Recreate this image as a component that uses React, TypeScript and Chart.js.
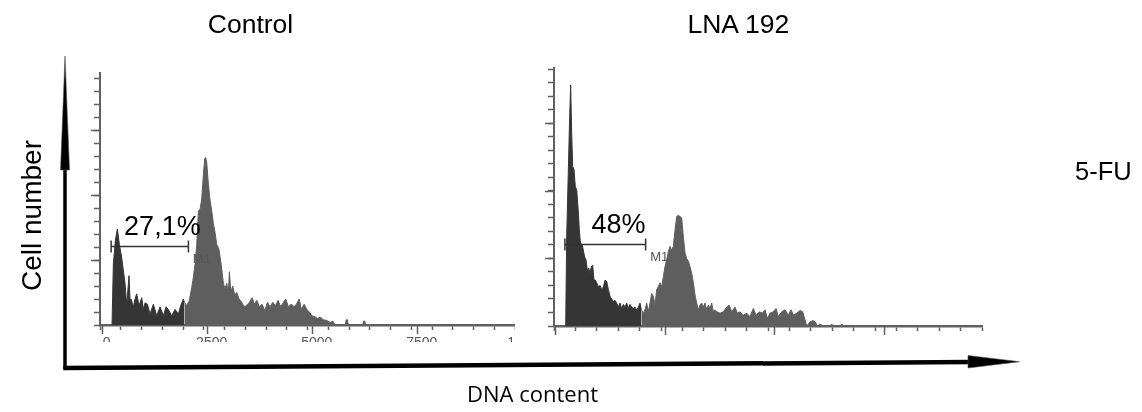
import React, { useEffect, useRef } from 'react';
import { Chart, registerables } from 'chart.js';

Chart.register(...registerables);

const FONT = '"Liberation Sans", Arial, Helvetica, sans-serif';
const AXIS = '#606060';
const DARK = '#353535';
const GRAY = '#5e5e5e';

// Panel titles and gate labels
const panelTitles = ['Control', 'LNA 192'];
const gatePercents = ['27,1%', '48%'];
const gateName = 'M1';
const gateStart = 225;
const gateEnd = 2065;
const gateLevels = [6.1, 6.05];
const gateLabelX = 1445;
const gateLabelY = 6.9;
const gateNameX = 2170;
const gateNameY = 4.8;

// x tick values shown as labels on the control panel
const xLabelValues = [0, 2500, 5000, 7500, 10000];
const xMajorTicks = [0, 2500, 5000, 7500];
const yMajorTicks = [5, 10, 15];

// Control histogram: gated (M1) part
const ctrlDarkX = [246, 278, 326, 373, 421, 476, 516, 556, 596, 651, 675, 699, 754, 794, 834, 889, 953, 993, 1032, 1088, 1151, 1231, 1310, 1390, 1469, 1532, 1588, 1667, 1747, 1826, 1882, 1945, 1969];
const ctrlDarkY = [0, 4.7, 6.5, 7.4, 6.2, 5.2, 4.2, 3.2, 1.5, 3.8, 1.9, 2.0, 1.4, 2.0, 2.4, 1.5, 2.1, 1.2, 1.7, 1.6, 0.85, 1.6, 0.7, 1.4, 0.7, 1.4, 1.2, 0.7, 1.2, 0.85, 1.5, 2.0, 1.75];
// Control histogram: remaining part
const ctrlGrayX = [1969, 2025, 2088, 2144, 2184, 2223, 2263, 2303, 2342, 2382, 2422, 2453, 2477, 2501, 2541, 2581, 2620, 2660, 2700, 2739, 2795, 2843, 2898, 2938, 2978, 3017, 3041, 3073, 3120, 3168, 3216, 3271, 3335, 3390, 3454, 3517, 3581, 3637, 3692, 3756, 3819, 3883, 3946, 4010, 4073, 4137, 4200, 4264, 4327, 4383, 4446, 4510, 4573, 4637, 4701, 4756, 4820, 4883, 4947, 5010, 5074, 5137, 5201, 5280, 5360, 5439, 5502, 5558, 5800, 5820, 5852, 5872, 6215, 6233, 6265, 6285];
const ctrlGrayY = [1.75, 1.5, 1.9, 2.9, 3.7, 4.7, 6.2, 8.8, 8.9, 9.7, 11.6, 12.8, 12.9, 12.5, 10.8, 9.6, 8.8, 7.8, 7.1, 6.2, 5.8, 4.7, 3.2, 2.8, 3.2, 2.6, 4.1, 2.6, 3.0, 2.3, 2.5, 2.0, 1.75, 1.4, 1.5, 1.75, 2.1, 1.6, 1.9, 1.4, 1.6, 1.1, 1.75, 1.4, 1.75, 1.5, 1.9, 1.4, 1.75, 2.0, 1.4, 1.6, 1.4, 1.6, 2.0, 1.2, 1.6, 1.2, 1.0, 0.7, 0.65, 0.5, 0.6, 0.4, 0.35, 0.2, 0.3, 0, 0, 0.4, 0.4, 0, 0, 0.3, 0.3, 0];

// LNA 192 histogram: gated (M1) part
const lnaDarkX = [243, 266, 304, 334, 357, 380, 403, 433, 463, 494, 524, 555, 585, 615, 646, 676, 707, 737, 767, 798, 828, 858, 889, 919, 950, 988, 1026, 1064, 1102, 1140, 1178, 1216, 1254, 1291, 1329, 1367, 1405, 1443, 1481, 1519, 1557, 1595, 1633, 1671, 1709, 1747, 1785, 1823, 1861, 1899, 1937, 1968];
const lnaDarkY = [0, 6.6, 11.6, 15.5, 17.85, 14.3, 11.8, 11.6, 10.3, 10.1, 8.8, 7.1, 5.9, 6.1, 5.6, 5.1, 4.9, 4.1, 4.3, 3.9, 4.4, 4.5, 3.4, 3.4, 3.2, 2.9, 3.0, 2.7, 2.9, 3.4, 3.3, 2.7, 2.2, 2.0, 1.8, 1.9, 1.7, 1.4, 1.7, 1.3, 1.6, 1.4, 1.7, 1.3, 1.6, 1.4, 1.3, 1.4, 1.2, 1.4, 1.7, 1.2];
// LNA 192 histogram: remaining part
const lnaGrayX = [1968, 2013, 2051, 2089, 2127, 2165, 2203, 2241, 2279, 2317, 2355, 2393, 2431, 2469, 2507, 2545, 2583, 2621, 2659, 2697, 2735, 2773, 2811, 2849, 2887, 2925, 2963, 3001, 3039, 3077, 3115, 3153, 3191, 3229, 3267, 3305, 3343, 3381, 3419, 3457, 3495, 3533, 3571, 3609, 3647, 3685, 3761, 3837, 3913, 3966, 4027, 4103, 4156, 4216, 4292, 4368, 4444, 4520, 4581, 4657, 4725, 4786, 4839, 4900, 4976, 5037, 5090, 5166, 5242, 5318, 5379, 5432, 5508, 5584, 5645, 5698, 5736, 5812, 5873, 5934, 5979, 6040, 6115, 6267, 6305, 6343, 6495, 6533, 6571];
const lnaGrayY = [1.2, 0.95, 1.2, 1.7, 1.05, 1.7, 2.4, 2.2, 1.55, 2.7, 2.9, 3.2, 2.9, 3.65, 4.4, 4.9, 5.5, 5.9, 5.6, 5.9, 7.1, 8.1, 8.2, 8.1, 8.0, 6.6, 5.4, 5.0, 4.8, 4.4, 3.9, 3.2, 2.3, 1.7, 1.2, 1.55, 1.7, 1.4, 1.7, 1.2, 1.55, 1.3, 1.7, 1.05, 1.2, 1.05, 0.95, 1.05, 1.4, 1.55, 1.05, 1.4, 0.95, 1.05, 0.8, 0.95, 0.7, 1.3, 0.8, 1.05, 0.95, 1.2, 0.55, 0.95, 1.05, 1.3, 0.7, 1.05, 1.2, 0.8, 1.2, 0.8, 0.95, 1.15, 1.05, 0.45, 0, 0.3, 0.4, 0.3, 0, 0.15, 0, 0, 0.15, 0, 0, 0.15, 0];

type HistProps = {
  darkX: number[]; darkY: number[]; grayX: number[]; grayY: number[];
  xMin: number; xMax: number; yMax: number; showXLabels: boolean;
  percent: string; level: number;
  left: number; top: number; width: number; height: number; clipWidth: number; clipHeight: number;
};

function Histogram(p: HistProps) {
  const ref = useRef<HTMLCanvasElement>(null);
  useEffect(() => {
    if (!ref.current) return;
    const dark = p.darkX.map((x, i) => ({ x, y: p.darkY[i] }));
    const gray = p.grayX.map((x, i) => ({ x, y: p.grayY[i] }));

    const majorTicksPlugin = {
      id: 'majorTicks',
      afterDraw(chart: any) {
        const { ctx, chartArea, scales } = chart;
        ctx.save();
        ctx.strokeStyle = AXIS;
        ctx.lineWidth = 1.5;
        xMajorTicks.forEach((v) => {
          const px = Math.round(scales.x.getPixelForValue(v)) + 0.5;
          ctx.beginPath();
          ctx.moveTo(px, chartArea.bottom);
          ctx.lineTo(px, chartArea.bottom + 9);
          ctx.stroke();
        });
        yMajorTicks.forEach((v) => {
          const py = Math.round(scales.y.getPixelForValue(v)) + 0.5;
          ctx.beginPath();
          ctx.moveTo(chartArea.left - 9, py);
          ctx.lineTo(chartArea.left, py);
          ctx.stroke();
        });
        if (p.showXLabels) {
          ctx.fillStyle = '#555';
          ctx.font = `14px ${FONT}`;
          ctx.textAlign = 'center';
          ctx.textBaseline = 'top';
          xLabelValues.forEach((v) => {
            ctx.fillText(String(v), scales.x.getPixelForValue(v) + 5, chartArea.bottom + 11);
          });
        }
        ctx.restore();
      },
    };

    const gatePlugin = {
      id: 'gate',
      afterDatasetsDraw(chart: any) {
        const { ctx, scales } = chart;
        const x0 = scales.x.getPixelForValue(gateStart);
        const x1 = scales.x.getPixelForValue(gateEnd);
        const y = Math.round(scales.y.getPixelForValue(p.level)) + 0.5;
        ctx.save();
        ctx.strokeStyle = '#333';
        ctx.lineWidth = 1.5;
        ctx.beginPath();
        ctx.moveTo(x0, y);
        ctx.lineTo(x1, y);
        ctx.moveTo(x0, y - 6);
        ctx.lineTo(x0, y + 6);
        ctx.moveTo(x1, y - 6);
        ctx.lineTo(x1, y + 6);
        ctx.stroke();
        ctx.fillStyle = '#000';
        ctx.font = `27px ${FONT}`;
        ctx.textAlign = 'center';
        ctx.textBaseline = 'alphabetic';
        ctx.fillText(p.percent, scales.x.getPixelForValue(gateLabelX), scales.y.getPixelForValue(gateLabelY));
        ctx.fillStyle = '#555';
        ctx.font = `13px ${FONT}`;
        ctx.textAlign = 'left';
        ctx.fillText(gateName, scales.x.getPixelForValue(gateNameX), scales.y.getPixelForValue(gateNameY));
        ctx.restore();
      },
    };

    const chart = new Chart(ref.current, {
      type: 'line',
      data: {
        datasets: [
          { data: gray, fill: 'origin', backgroundColor: GRAY, borderColor: GRAY, borderWidth: 1, pointRadius: 0, tension: 0 },
          { data: dark, fill: 'origin', backgroundColor: DARK, borderColor: DARK, borderWidth: 1, pointRadius: 0, tension: 0 },
        ],
      },
      options: {
        animation: false,
        responsive: false,
        devicePixelRatio: 1,
        layout: { padding: { top: 4, right: 4, left: 0, bottom: 0 } },
        plugins: { legend: { display: false }, tooltip: { enabled: false }, title: { display: false } },
        scales: {
          x: {
            type: 'linear',
            min: p.xMin,
            max: p.xMax,
            afterFit: (s: any) => { s.height = 30; },
            border: { display: true, color: AXIS, width: 2.5 },
            grid: { drawOnChartArea: false, drawTicks: true, tickLength: 5, color: AXIS, tickWidth: 1.5 },
            ticks: { display: false, stepSize: 500, includeBounds: false, autoSkip: false },
          },
          y: {
            type: 'linear',
            min: 0,
            max: p.yMax,
            afterFit: (s: any) => { s.width = 20; },
            border: { display: true, color: AXIS, width: 2 },
            grid: { drawOnChartArea: false, drawTicks: true, tickLength: 6, color: AXIS, tickWidth: 1.5 },
            ticks: { display: false, stepSize: 1, includeBounds: false },
          },
        },
      },
      plugins: [majorTicksPlugin, gatePlugin],
    } as any);
    return () => chart.destroy();
  }, []);

  return (
    <div style={{ position: 'absolute', left: p.left, top: p.top, width: p.clipWidth, height: p.clipHeight, overflow: 'hidden' }}>
      <canvas ref={ref} width={p.width} height={p.height} style={{ display: 'block', width: p.width, height: p.height }} />
    </div>
  );
}

export default function App() {
  return (
    <div style={{ position: 'absolute', left: 0, top: 0, width: 1142, height: 412, background: '#fff', overflow: 'hidden' }}>
      <Histogram
        darkX={ctrlDarkX} darkY={ctrlDarkY} grayX={ctrlGrayX} grayY={ctrlGrayY}
        xMin={-40} xMax={9840} yMax={19.4} showXLabels={true}
        percent={gatePercents[0]} level={gateLevels[0]}
        left={80} top={69} width={439} height={286} clipWidth={435} clipHeight={273}
      />
      <Histogram
        darkX={lnaDarkX} darkY={lnaDarkY} grayX={lnaGrayX} grayY={lnaGrayY}
        xMin={-23} xMax={9731} yMax={19.1} showXLabels={false}
        percent={gatePercents[1]} level={gateLevels[1]}
        left={534} top={64} width={452} height={292} clipWidth={452} clipHeight={278}
      />
      <svg width={1142} height={412} style={{ position: 'absolute', left: 0, top: 0, pointerEvents: 'none' }}>
        <text x={250.5} y={32.5} textAnchor="middle" fontFamily={FONT} fontSize={26.5} fill="#000">{panelTitles[0]}</text>
        <text x={738.3} y={32.5} textAnchor="middle" fontFamily={FONT} fontSize={26.5} fill="#000">{panelTitles[1]}</text>
        <text x={1075} y={180} textAnchor="start" fontFamily={FONT} fontSize={25.5} fill="#000">5-FU</text>
        <text x={0} y={0} transform="translate(41,215.5) rotate(-90)" textAnchor="middle" fontFamily={FONT} fontSize={28} fill="#000">Cell number</text>
        <text x={598} y={402} textAnchor="end" fontFamily='"Open Sans", sans-serif' fontSize={22} fill="#000">DNA content</text>
        {/* vertical arrow */}
        <line x1={65} y1={369} x2={65} y2={168} stroke="#000" strokeWidth={3.5} />
        <polygon points="60.5,170 69.5,170 65,56" fill="#000" stroke="#555" strokeWidth={0.6} />
        {/* horizontal arrow */}
        <line x1={63.3} y1={368} x2={970} y2={362} stroke="#000" strokeWidth={4.5} />
        <polygon points="968,355.5 968,368 1019.5,361.7" fill="#000" stroke="#555" strokeWidth={0.6} />
      </svg>
    </div>
  );
}
